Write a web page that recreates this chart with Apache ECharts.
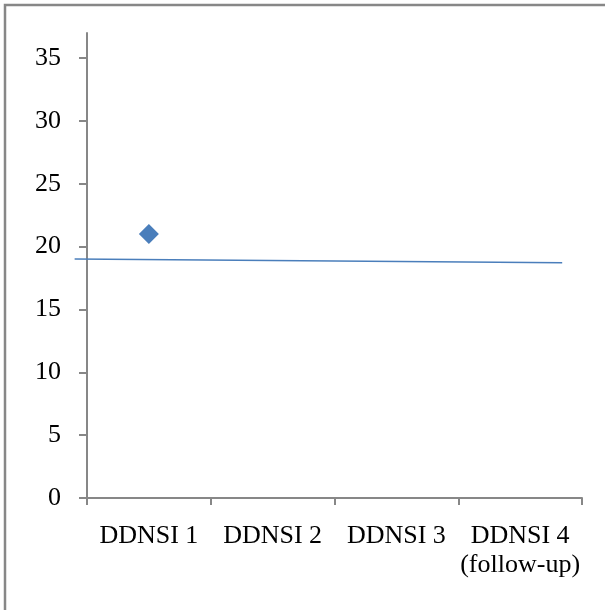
<!DOCTYPE html>
<html>
<head>
<meta charset="utf-8">
<script src="https://cdn.jsdelivr.net/npm/echarts@6/dist/echarts.min.js"></script>
<style>
html,body{margin:0;padding:0;background:#fff;}
#chart{width:605px;height:610px;}
</style>
</head>
<body>
<div id="chart"></div>
<script>
var categories = ['DDNSI 1', 'DDNSI 2', 'DDNSI 3', 'DDNSI 4\n(follow-up)'];
var scores = [21, null, null, null];
var trendX = [-0.6, 3.34];
var trendY = [19.02, 18.72];
var yTicks = [0, 5, 10, 15, 20, 25, 30, 35];

var axisColor = '#878787';
var blue = '#4A7EBB';
var font = "'Liberation Serif', 'Times New Roman', serif";

// plot area geometry
var plotLeft = 87, plotTop = 33, plotWidth = 495, plotHeight = 465;
var catWidth = plotWidth / categories.length;
var yMax = 37;

var chart = echarts.init(document.getElementById('chart'), null, {renderer: 'canvas'});
chart.setOption({
  animation: false,
  backgroundColor: '#fff',
  graphic: [{
    type: 'rect',
    shape: {x: 5, y: 5, width: 700, height: 700},
    style: {fill: 'none', stroke: axisColor, lineWidth: 2.5},
    silent: true
  }],
  grid: [
    {left: plotLeft, top: plotTop, width: plotWidth, height: plotHeight, containLabel: false},
    // companion grid for the trendline (extends left of the axis like the original)
    {left: plotLeft - 0.1 * catWidth, top: plotTop, width: plotWidth + 0.1 * catWidth, height: plotHeight, containLabel: false}
  ],
  xAxis: [{
    type: 'category',
    gridIndex: 0,
    data: categories,
    boundaryGap: true,
    axisLine: {onZero: false, lineStyle: {color: axisColor, width: 2}},
    axisTick: {show: true, length: 7, alignWithLabel: false, lineStyle: {color: axisColor, width: 2}},
    axisLabel: {color: '#000', fontFamily: font, fontSize: 26, lineHeight: 29, margin: 24, interval: 0},
    splitLine: {show: false}
  }, {
    type: 'value',
    gridIndex: 1,
    min: -0.6,
    max: 3.5,
    show: false
  }],
  yAxis: [{
    type: 'value',
    gridIndex: 0,
    min: 0,
    max: yMax,
    interval: 5,
    axisLine: {show: true, onZero: false, lineStyle: {color: axisColor, width: 2}},
    axisTick: {show: true, length: 8, customValues: yTicks, lineStyle: {color: axisColor, width: 2}},
    axisLabel: {color: '#000', fontFamily: font, fontSize: 26, margin: 26, customValues: yTicks},
    splitLine: {show: false}
  }, {
    type: 'value',
    gridIndex: 1,
    min: 0,
    max: yMax,
    show: false
  }],
  series: [{
    type: 'line',
    xAxisIndex: 1,
    yAxisIndex: 1,
    data: trendX.map(function (x, i) { return [x, trendY[i]]; }),
    symbol: 'none',
    lineStyle: {color: blue, width: 1.5},
    z: 1
  }, {
    type: 'scatter',
    xAxisIndex: 0,
    yAxisIndex: 0,
    data: scores,
    symbol: 'diamond',
    symbolSize: 20,
    itemStyle: {color: blue, opacity: 1},
    z: 3
  }]
});
</script>
</body>
</html>
